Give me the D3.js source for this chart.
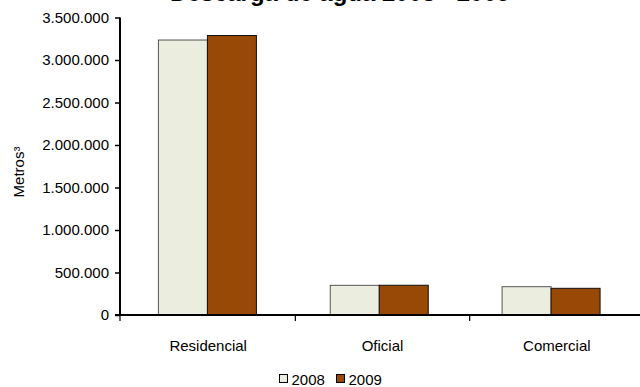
<!DOCTYPE html>
<html><head><meta charset="utf-8">
<script src="https://cdn.jsdelivr.net/npm/d3@7"></script>
<style>
html,body{margin:0;padding:0;background:#fff;}
svg{display:block;font-family:"Liberation Sans",Arial,sans-serif;}
</style></head>
<body>
<svg id="chart" width="640" height="387"></svg>
<script>
const categories = ["Residencial", "Oficial", "Comercial"];
const seriesNames = ["2008", "2009"];
const values2008 = [3235000, 349000, 333000];
const values2009 = [3288000, 350000, 314000];
const yTicks = [0, 500000, 1000000, 1500000, 2000000, 2500000, 3000000, 3500000];
const titleText = "Descarga de agua 2008 - 2009";

const colors = {"2008": "#EBEEDE", "2009": "#994906"};
const strokes = {"2008": "#555555", "2009": "#111111"};

const svg = d3.select("#chart");
const mLeft = 121, mRight = 644, mTop = 17.5, mBottom = 315;

const y = d3.scaleLinear().domain([0, 3500000]).range([mBottom, mTop]);
// axis categories (ticks + labels)
const x = d3.scaleBand().domain(categories).range([mLeft, mRight]);
// bar group placement
const xBars = d3.scaleBand().domain(categories).range([mLeft, 636.5]);
const inner = d3.scaleBand().domain(seriesNames).range([0, 98]);

const fmt = v => d3.format(",")(v).replace(/,/g, ".");

// title (cut off at top, as in the reference)
svg.append("text").attr("x", 340).attr("y", 0.7).attr("text-anchor", "middle")
  .attr("font-size", 24).attr("font-weight", "bold").attr("fill", "#000").text(titleText);

// bars
const data = categories.map((c, i) => ({cat: c, vals: [{s: "2008", v: values2008[i]}, {s: "2009", v: values2009[i]}]}));
const g = svg.append("g");
data.forEach(d => {
  const x0 = xBars(d.cat) + xBars.bandwidth() / 2 - 49;
  d.vals.forEach(e => {
    g.append("rect")
      .attr("x", x0 + inner(e.s) + 0.5)
      .attr("y", y(e.v))
      .attr("width", inner.bandwidth())
      .attr("height", mBottom - y(e.v))
      .attr("fill", colors[e.s])
      .attr("stroke", strokes[e.s])
      .attr("stroke-width", 1);
  });
});

// y axis
const yAxis = svg.append("g").attr("transform", `translate(${mLeft - 1},0)`)
  .call(d3.axisLeft(y).tickValues(yTicks).tickFormat(fmt).tickSize(5).tickPadding(6));
yAxis.select(".domain").attr("stroke", "#000").attr("stroke-width", 2).attr("d", `M0,${mTop}V${mBottom}`);
yAxis.selectAll(".tick line").attr("stroke", "#000").attr("stroke-width", 1.5);
yAxis.selectAll("text").attr("font-size", 15).attr("fill", "#000").attr("font-family", "Liberation Sans, Arial, sans-serif");

// x axis
const xAxisG = svg.append("g").attr("transform", `translate(0,${mBottom})`);
xAxisG.append("line").attr("x1", mLeft - 6).attr("x2", 640).attr("y1", 0).attr("y2", 0)
  .attr("stroke", "#000").attr("stroke-width", 2);
const bounds = [mLeft - 1].concat(categories.slice(1).map(c => x(c)));
bounds.forEach(b => xAxisG.append("line").attr("x1", b).attr("x2", b).attr("y1", 0).attr("y2", 6)
  .attr("stroke", "#000").attr("stroke-width", 1.2));
categories.forEach(c => xAxisG.append("text")
  .attr("x", x(c) + x.bandwidth() / 2).attr("y", 36)
  .attr("text-anchor", "middle").attr("font-size", 15).attr("fill", "#000").text(c));

// y label
svg.append("text").attr("transform", "translate(24,172) rotate(-90)")
  .attr("text-anchor", "middle").attr("font-size", 15).attr("fill", "#000")
  .text("Metros³");

// legend
const leg = svg.append("g");
const legX = [279.5, 336.5];
seriesNames.forEach((s, i) => {
  leg.append("rect").attr("x", legX[i]).attr("y", 374.5).attr("width", 8).attr("height", 8)
    .attr("fill", colors[s]).attr("stroke", "#000").attr("stroke-width", 1);
  leg.append("text").attr("x", legX[i] + 12).attr("y", 385).attr("font-size", 15).attr("fill", "#000").text(s);
});
</script>
</body></html>
